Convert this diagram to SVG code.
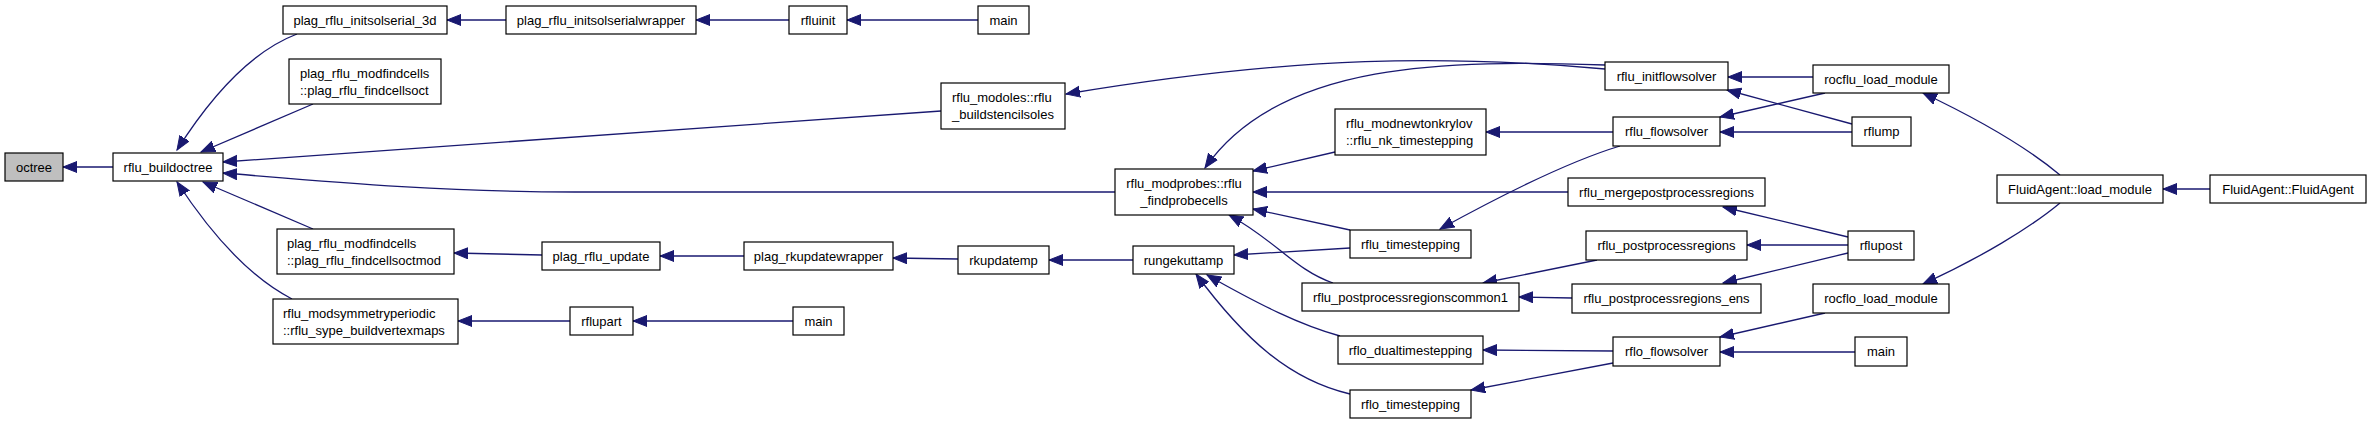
<svg xmlns="http://www.w3.org/2000/svg" width="2371" height="424" viewBox="0 0 2371 424">
<style>
.n rect{fill:#fff;stroke:#000;stroke-width:1.2}
.g rect{fill:#bfbfbf}
text{font-family:"Liberation Sans",Arial,Helvetica,sans-serif;font-size:13px;fill:#000}
.c{text-anchor:middle}
.e path{fill:none;stroke:#191970;stroke-width:1.3;marker-end:url(#a)}
</style>
<defs>
<marker id="a" markerWidth="16" markerHeight="13" refX="14" refY="6" orient="auto" markerUnits="userSpaceOnUse">
<path d="M0,0.5 L14,6 L0,11.5 z" fill="#191970" stroke="#191970" stroke-width="1"/>
</marker>
</defs>
<rect width="2371" height="424" fill="#fff"/>
<g id="edges" class="e">
<path d="M113,167 L63,167"/>
<path d="M297,34 C255,50 215,90 177,150"/>
<path d="M313,104 L201,152"/>
<path d="M941,111 L223,162"/>
<path d="M1115,192 L575,192 C430,192 310,180 223,173"/>
<path d="M313,229 L203,182"/>
<path d="M292,299 C255,280 215,240 177,182"/>
<path d="M506,20 L447,20"/>
<path d="M789,20 L696,20"/>
<path d="M978,20 L847,20"/>
<path d="M542,255 L454,253"/>
<path d="M744,256 L660,256"/>
<path d="M958,259 L893,258"/>
<path d="M1133,260 L1049,260"/>
<path d="M570,321 L458,321"/>
<path d="M793,321 L633,321"/>
<path d="M1605,69 C1450,55 1300,55 1066,94"/>
<path d="M1605,65 C1450,60 1280,60 1205,168"/>
<path d="M1335,152 L1253,171"/>
<path d="M1568,192 L1253,192"/>
<path d="M1350,230 L1253,209"/>
<path d="M1333,283 C1295,270 1275,240 1229,215"/>
<path d="M1350,248 L1234,255"/>
<path d="M1340,336 C1300,325 1260,305 1207,275"/>
<path d="M1350,394 C1290,380 1245,340 1196,274"/>
<path d="M1613,132 L1486,132"/>
<path d="M1620,146 C1580,158 1520,185 1440,229"/>
<path d="M1597,260 L1483,283"/>
<path d="M1572,298 L1519,297"/>
<path d="M1613,351 L1483,350"/>
<path d="M1613,363 L1471,390"/>
<path d="M1813,77 L1728,77"/>
<path d="M1825,93 L1720,117"/>
<path d="M1852,124 L1727,90"/>
<path d="M1852,132 L1720,132"/>
<path d="M1848,237 L1723,207"/>
<path d="M1848,245 L1747,245"/>
<path d="M1848,253 L1723,283"/>
<path d="M1825,313 L1720,337"/>
<path d="M1855,352 L1720,352"/>
<path d="M2060,175 C2030,150 1980,120 1923,93"/>
<path d="M2060,203 C2030,228 1980,258 1923,284"/>
<path d="M2210,189 L2163,189"/>
</g>
<g id="octree" class="n g"><rect x="5" y="153" width="58" height="28"/><text class="c" x="34" y="171.5">octree</text></g>
<g id="rflu_buildoctree" class="n"><rect x="113" y="153" width="110" height="28"/><text class="c" x="168" y="171.5">rflu_buildoctree</text></g>
<g id="plag_rflu_initsolserial_3d" class="n"><rect x="283" y="6" width="164" height="28"/><text class="c" x="365" y="24.5">plag_rflu_initsolserial_3d</text></g>
<g id="plag_rflu_findcellsoct" class="n"><rect x="289" y="59" width="152" height="45"/><text x="300" y="77.5">plag_rflu_modfindcells</text><text x="300" y="95">::plag_rflu_findcellsoct</text></g>
<g id="plag_rflu_findcellsoctmod" class="n"><rect x="277" y="229" width="177" height="45"/><text x="287" y="247.5">plag_rflu_modfindcells</text><text x="287" y="265">::plag_rflu_findcellsoctmod</text></g>
<g id="rflu_sype_buildvertexmaps" class="n"><rect x="273" y="299" width="185" height="45"/><text x="283" y="317.5">rflu_modsymmetryperiodic</text><text x="283" y="335">::rflu_sype_buildvertexmaps</text></g>
<g id="plag_rflu_initsolserialwrapper" class="n"><rect x="506" y="6" width="190" height="28"/><text class="c" x="601" y="24.5">plag_rflu_initsolserialwrapper</text></g>
<g id="rfluinit" class="n"><rect x="789" y="6" width="58" height="28"/><text class="c" x="818" y="24.5">rfluinit</text></g>
<g id="main1" class="n"><rect x="978" y="6" width="51" height="28"/><text class="c" x="1003.5" y="24.5">main</text></g>
<g id="rflu_buildstencilsoles" class="n"><rect x="941" y="83" width="124" height="46"/><text x="952" y="101.5">rflu_modoles::rflu</text><text x="952" y="119">_buildstencilsoles</text></g>
<g id="plag_rflu_update" class="n"><rect x="542" y="242" width="118" height="28"/><text class="c" x="601" y="260.5">plag_rflu_update</text></g>
<g id="plag_rkupdatewrapper" class="n"><rect x="744" y="242" width="149" height="28"/><text class="c" x="818.5" y="260.5">plag_rkupdatewrapper</text></g>
<g id="rkupdatemp" class="n"><rect x="958" y="246" width="91" height="28"/><text class="c" x="1003.5" y="264.5">rkupdatemp</text></g>
<g id="rflupart" class="n"><rect x="570" y="307" width="63" height="28"/><text class="c" x="601.5" y="325.5">rflupart</text></g>
<g id="main2" class="n"><rect x="793" y="307" width="51" height="28"/><text class="c" x="818.5" y="325.5">main</text></g>
<g id="rflu_findprobecells" class="n"><rect x="1115" y="169" width="138" height="46"/><text class="c" x="1184" y="187.5">rflu_modprobes::rflu</text><text class="c" x="1184" y="205">_findprobecells</text></g>
<g id="rflu_nk_timestepping" class="n"><rect x="1335" y="109" width="151" height="46"/><text x="1346" y="127.5">rflu_modnewtonkrylov</text><text x="1346" y="145">::rflu_nk_timestepping</text></g>
<g id="rungekuttamp" class="n"><rect x="1133" y="246" width="101" height="28"/><text class="c" x="1183.5" y="264.5">rungekuttamp</text></g>
<g id="rflu_timestepping" class="n"><rect x="1350" y="230" width="121" height="28"/><text class="c" x="1410.5" y="248.5">rflu_timestepping</text></g>
<g id="rflu_postprocessregionscommon1" class="n"><rect x="1302" y="283" width="217" height="28"/><text class="c" x="1410.5" y="301.5">rflu_postprocessregionscommon1</text></g>
<g id="rflo_dualtimestepping" class="n"><rect x="1338" y="336" width="145" height="28"/><text class="c" x="1410.5" y="354.5">rflo_dualtimestepping</text></g>
<g id="rflo_timestepping" class="n"><rect x="1350" y="390" width="121" height="28"/><text class="c" x="1410.5" y="408.5">rflo_timestepping</text></g>
<g id="rflu_initflowsolver" class="n"><rect x="1605" y="62" width="123" height="28"/><text class="c" x="1666.5" y="80.5">rflu_initflowsolver</text></g>
<g id="rocflu_load_module" class="n"><rect x="1813" y="65" width="136" height="28"/><text class="c" x="1881" y="83.5">rocflu_load_module</text></g>
<g id="rflu_flowsolver" class="n"><rect x="1613" y="117" width="107" height="29"/><text class="c" x="1666.5" y="136">rflu_flowsolver</text></g>
<g id="rflump" class="n"><rect x="1852" y="117" width="59" height="29"/><text class="c" x="1881.5" y="136">rflump</text></g>
<g id="rflu_mergepostprocessregions" class="n"><rect x="1568" y="178" width="197" height="28"/><text class="c" x="1666.5" y="196.5">rflu_mergepostprocessregions</text></g>
<g id="rflu_postprocessregions" class="n"><rect x="1586" y="231" width="161" height="29"/><text class="c" x="1666.5" y="250">rflu_postprocessregions</text></g>
<g id="rflupost" class="n"><rect x="1848" y="231" width="66" height="29"/><text class="c" x="1881" y="250">rflupost</text></g>
<g id="rflu_postprocessregions_ens" class="n"><rect x="1572" y="284" width="189" height="29"/><text class="c" x="1666.5" y="303">rflu_postprocessregions_ens</text></g>
<g id="rocflo_load_module" class="n"><rect x="1813" y="284" width="136" height="29"/><text class="c" x="1881" y="303">rocflo_load_module</text></g>
<g id="rflo_flowsolver" class="n"><rect x="1613" y="337" width="107" height="29"/><text class="c" x="1666.5" y="356">rflo_flowsolver</text></g>
<g id="main3" class="n"><rect x="1855" y="337" width="52" height="29"/><text class="c" x="1881" y="356">main</text></g>
<g id="FluidAgent_load_module" class="n"><rect x="1997" y="175" width="166" height="28"/><text class="c" x="2080" y="193.5">FluidAgent::load_module</text></g>
<g id="FluidAgent_FluidAgent" class="n"><rect x="2210" y="175" width="156" height="28"/><text class="c" x="2288" y="193.5">FluidAgent::FluidAgent</text></g>
</svg>
